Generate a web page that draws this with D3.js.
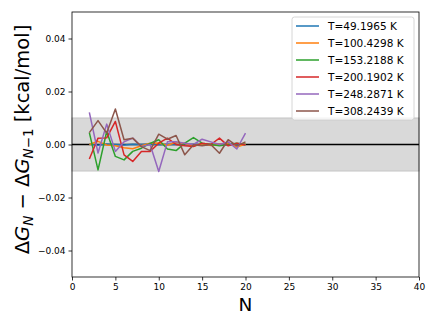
<!DOCTYPE html>
<html>
<head>
<meta charset="utf-8">
<script src="https://cdn.jsdelivr.net/npm/d3@7"></script>
<style>
  body { margin: 0; background: #fff; }
  text { font-family: "DejaVu Sans", sans-serif; }
</style>
</head>
<body>
<div id="chart"></div>
<script>
// N values and series (difference of consecutive free energies)
var nValues = [2, 3, 4, 5, 6, 7, 8, 9, 10, 11, 12, 13, 14, 15, 16, 17, 18, 19, 20];
var seriesNames = ["T=49.1965 K", "T=100.4298 K", "T=153.2188 K", "T=200.1902 K", "T=248.2871 K", "T=308.2439 K"];
var seriesColors = ["#1f77b4", "#ff7f0e", "#2ca02c", "#d62728", "#9467bd", "#8c564b"];
var s49 = [0.0002, -0.0003, 0.0002, 0.0, -0.0002, 0.0001, 0.0, 0.0002, -0.0001, 0.0001, 0.0, -0.0002, 0.0001, 0.0, -0.0001, 0.0001, 0.0, -0.0001, 0.0];
var s100 = [0.0, 0.0012, -0.0002, -0.0005, -0.0012, -0.0016, -0.0005, 0.0005, 0.0006, -0.0003, 0.0008, 0.0004, -0.0006, 0.0003, -0.0004, 0.0002, 0.0005, -0.001, 0.0002];
var s153 = [0.0045, -0.0096, 0.0049, -0.0045, -0.0058, -0.0026, -0.0014, 0.0004, 0.0018, -0.0017, -0.0023, 0.0005, 0.0026, 0.0005, 0.0, -0.0005, 0.0, 0.0005, 0.0];
var s200 = [-0.0055, 0.0024, 0.0025, 0.0087, -0.0039, -0.0064, -0.0026, -0.0026, 0.0005, 0.0024, 0.0, -0.0005, -0.0008, 0.0005, 0.0, 0.0024, -0.0005, 0.0005, -0.0002];
var s248 = [0.0121, -0.0032, 0.0077, -0.0026, 0.001, 0.0024, -0.0008, 0.0, -0.0102, 0.001, 0.001, 0.0005, 0.0, 0.002, 0.001, 0.0, 0.001, -0.0017, 0.0043];
var s308 = [0.0045, 0.009, 0.0043, 0.0134, 0.0018, 0.0024, -0.0008, -0.0023, 0.0039, 0.002, 0.0034, -0.0039, -0.0001, -0.0005, 0.0, -0.0033, 0.0018, -0.0005, 0.001];
var allSeries = [s49, s100, s153, s200, s248, s308];
var xTicks = [0, 5, 10, 15, 20, 25, 30, 35, 40];
var yTicks = [-0.04, -0.02, 0.00, 0.02, 0.04];
var bandLimit = 0.01;

var svgWidth = 436, svgHeight = 327;
var margin = { top: 12, right: 17, bottom: 50, left: 72 };
var width = svgWidth - margin.left - margin.right;
var height = svgHeight - margin.top - margin.bottom;

var svg = d3.select("#chart").append("svg")
    .attr("width", svgWidth)
    .attr("height", svgHeight);

var g = svg.append("g").attr("transform", "translate(" + margin.left + "," + margin.top + ")");

var x = d3.scaleLinear().domain([0, 40]).range([0, width]);
var y = d3.scaleLinear().domain([-0.05, 0.05]).range([height, 0]);

// shaded band +/- 0.01
g.append("rect")
    .attr("x", 0)
    .attr("width", width)
    .attr("y", y(bandLimit))
    .attr("height", y(-bandLimit) - y(bandLimit))
    .attr("fill", "#d9d9d9")
    .attr("stroke", "#c4c4c4")
    .attr("stroke-width", 1);

// zero line
g.append("line")
    .attr("x1", 0).attr("x2", width)
    .attr("y1", y(0)).attr("y2", y(0))
    .attr("stroke", "#000")
    .attr("stroke-width", 1.5);

var line = d3.line()
    .x(function (d, i) { return x(nValues[i]); })
    .y(function (d) { return y(d); });

allSeries.forEach(function (s, k) {
    g.append("path")
        .attr("fill", "none")
        .attr("stroke", seriesColors[k])
        .attr("stroke-width", 1.5)
        .attr("stroke-linejoin", "round")
        .attr("d", line(s));
});

// axes
var xAxis = g.append("g")
    .attr("transform", "translate(0," + height + ")")
    .call(d3.axisBottom(x).tickValues(xTicks).tickSize(3.5).tickPadding(3).tickFormat(d3.format("d")));
var yAxis = g.append("g")
    .call(d3.axisLeft(y).tickValues(yTicks).tickSize(3.5).tickPadding(3)
        .tickFormat(function (d) { return d3.format(".2f")(d).replace("-", "\u2212"); }));

[xAxis, yAxis].forEach(function (a) {
    a.select(".domain").remove();
    a.selectAll("text").attr("font-size", 9).attr("fill", "#000").style("font-family", "DejaVu Sans");
    a.selectAll("line").attr("stroke", "#000").attr("stroke-width", 0.8);
});

// frame
g.append("rect")
    .attr("width", width).attr("height", height)
    .attr("fill", "none")
    .attr("stroke", "#000")
    .attr("stroke-width", 0.8);

// axis labels
svg.append("text")
    .attr("x", margin.left + width / 2)
    .attr("y", 311)
    .attr("text-anchor", "middle")
    .attr("font-size", 18.5)
    .text("N");

var yl = svg.append("text")
    .attr("transform", "translate(29," + (margin.top + height / 2 - 5) + ") rotate(-90)")
    .attr("text-anchor", "middle")
    .attr("font-size", 19.5);
yl.append("tspan").text("\u0394");
yl.append("tspan").attr("font-style", "italic").text("G");
yl.append("tspan").attr("font-style", "italic").attr("font-size", 13.5).attr("dy", 4).text("N");
yl.append("tspan").attr("dy", -4).text(" \u2212 \u0394");
yl.append("tspan").attr("font-style", "italic").text("G");
yl.append("tspan").attr("font-size", 13.5).attr("dy", 4).html("<tspan font-style='italic'>N</tspan>\u22121");
yl.append("tspan").attr("dy", -4).text(" [kcal/mol]");

// legend
var legend = svg.append("g").attr("transform", "translate(292,17)");
legend.append("rect")
    .attr("width", 122).attr("height", 103)
    .attr("rx", 2.5)
    .attr("fill", "#fff").attr("fill-opacity", 0.8)
    .attr("stroke", "#ccc").attr("stroke-width", 0.8);
seriesNames.forEach(function (name, k) {
    var yy = 9 + k * 17;
    legend.append("line")
        .attr("x1", 4).attr("x2", 27)
        .attr("y1", yy).attr("y2", yy)
        .attr("stroke", seriesColors[k]).attr("stroke-width", 1.5);
    legend.append("text")
        .attr("x", 36).attr("y", yy + 3.8)
        .attr("font-size", 10.5)
        .text(name);
});
</script>
</body>
</html>
